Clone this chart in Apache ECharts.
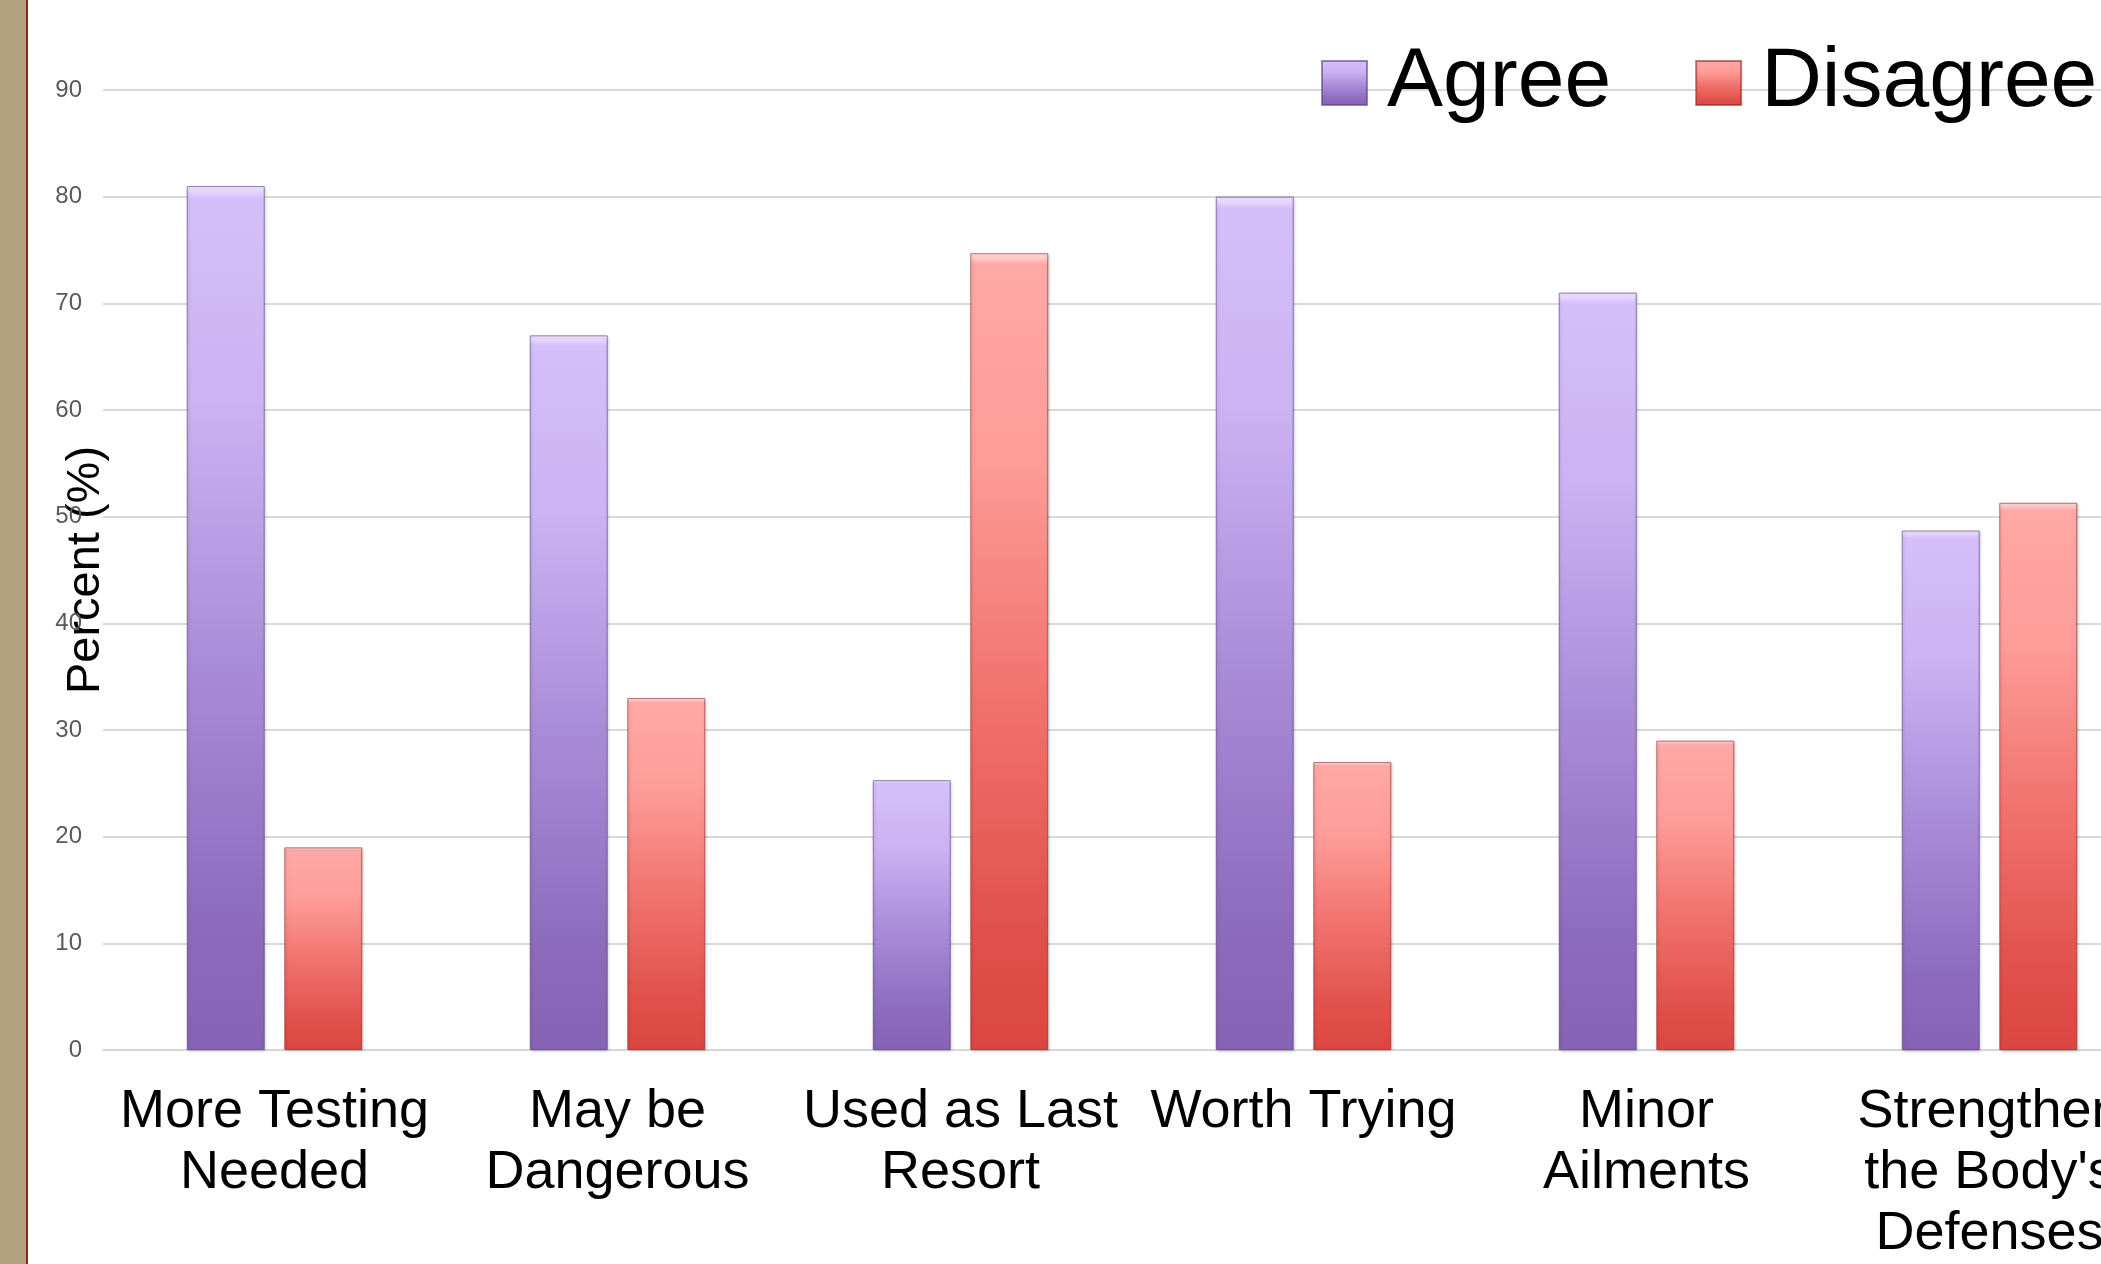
<!DOCTYPE html>
<html>
<head>
<meta charset="utf-8">
<title>Agree vs Disagree</title>
<script src="https://cdn.jsdelivr.net/npm/echarts@6/dist/echarts.min.js"></script>
<style>
  html, body { margin: 0; padding: 0; background: #ffffff; }
  #chart { width: 2101px; height: 1264px; }
</style>
</head>
<body>
<div id="chart"></div>
<script>
// Survey statements (line breaks as shown under each group)
const categories = [
  'More Testing\nNeeded',
  'May be\nDangerous',
  'Used as Last\nResort',
  'Worth Trying',
  'Minor\nAilments',
  "Strengthen\nthe Body's\nDefenses"
];

// Percent of respondents
const agreeValues = [81, 67, 25.3, 80, 71, 48.7];
const disagreeValues = [19, 33, 74.7, 27, 29, 51.3];

// Value axis ticks
const yMin = 0;
const yMax = 90;
const yStep = 10;

const FONT = '"Liberation Sans", Arial, sans-serif';

function barGradient(stops) {
  return new echarts.graphic.LinearGradient(0, 0, 0, 1,
    stops.map(([offset, color]) => ({ offset, color })));
}

const agreeFill = barGradient([
  [0, '#f3ebff'], [0.014, '#d5bffb'], [0.25, '#cbb2f3'],
  [0.55, '#a98cd8'], [0.85, '#8d6bbd'], [1, '#8663b4']
]);
const disagreeFill = barGradient([
  [0, '#ffe6e4'], [0.014, '#ffa8a5'], [0.25, '#fd9d99'],
  [0.55, '#f1736e'], [0.85, '#e1514b'], [1, '#dc4640']
]);

const chart = echarts.init(document.getElementById('chart'), null, { renderer: 'canvas' });

chart.setOption({
  backgroundColor: '#ffffff',
  animation: false,
  textStyle: { fontFamily: FONT },
  graphic: [
    { type: 'rect', left: 0, top: 0, shape: { width: 26, height: 1264 }, style: { fill: '#b4a17f' }, z: 100 },
    { type: 'rect', left: 26, top: 0, shape: { width: 2, height: 1264 }, style: { fill: '#7b2a25' }, z: 100 }
  ],
  legend: {
    left: 1316,
    top: 36,
    width: 1200,
    orient: 'horizontal',
    itemWidth: 45,
    itemHeight: 44,
    itemGap: 84,
    icon: 'rect',
    textStyle: {
      fontFamily: FONT,
      fontSize: 84,
      color: '#000000',
      padding: [0, 0, 0, 15]
    },
    data: ['Agree', 'Disagree']
  },
  grid: {
    left: 103,
    top: 90,
    width: 2058,
    height: 960,
    containLabel: false,
    outerBoundsMode: 'none'
  },
  xAxis: {
    type: 'category',
    data: categories,
    axisLine: { show: true, lineStyle: { color: '#d6d6d6', width: 2 } },
    axisTick: { show: false },
    axisLabel: {
      interval: 0,
      margin: 32,
      hideOverlap: false,
      fontFamily: FONT,
      fontSize: 54,
      lineHeight: 61,
      color: '#000000'
    }
  },
  yAxis: {
    type: 'value',
    min: yMin,
    max: yMax,
    interval: yStep,
    name: 'Percent (%)',
    nameLocation: 'middle',
    nameRotate: 90,
    nameGap: -7,
    nameMoveOverlap: false,
    nameTextStyle: { fontFamily: FONT, fontSize: 47, color: '#000000' },
    axisLine: { show: false },
    axisTick: { show: false },
    axisLabel: { margin: 21, fontFamily: FONT, fontSize: 24, color: '#595959' },
    splitLine: { lineStyle: { color: '#d9d9d9', width: 2 } }
  },
  series: [
    {
      name: 'Agree',
      type: 'bar',
      data: agreeValues,
      barWidth: 78,
      barGap: '25%',
      itemStyle: {
        color: agreeFill,
        borderColor: 'rgba(90,60,130,0.6)',
        borderWidth: 1,
        shadowColor: 'rgba(0,0,0,0.25)',
        shadowBlur: 3,
        shadowOffsetX: 1,
        shadowOffsetY: 1
      }
    },
    {
      name: 'Disagree',
      type: 'bar',
      data: disagreeValues,
      barWidth: 78,
      barGap: '25%',
      itemStyle: {
        color: disagreeFill,
        borderColor: 'rgba(140,40,40,0.6)',
        borderWidth: 1,
        shadowColor: 'rgba(0,0,0,0.25)',
        shadowBlur: 3,
        shadowOffsetX: 1,
        shadowOffsetY: 1
      }
    }
  ]
});
</script>
</body>
</html>
